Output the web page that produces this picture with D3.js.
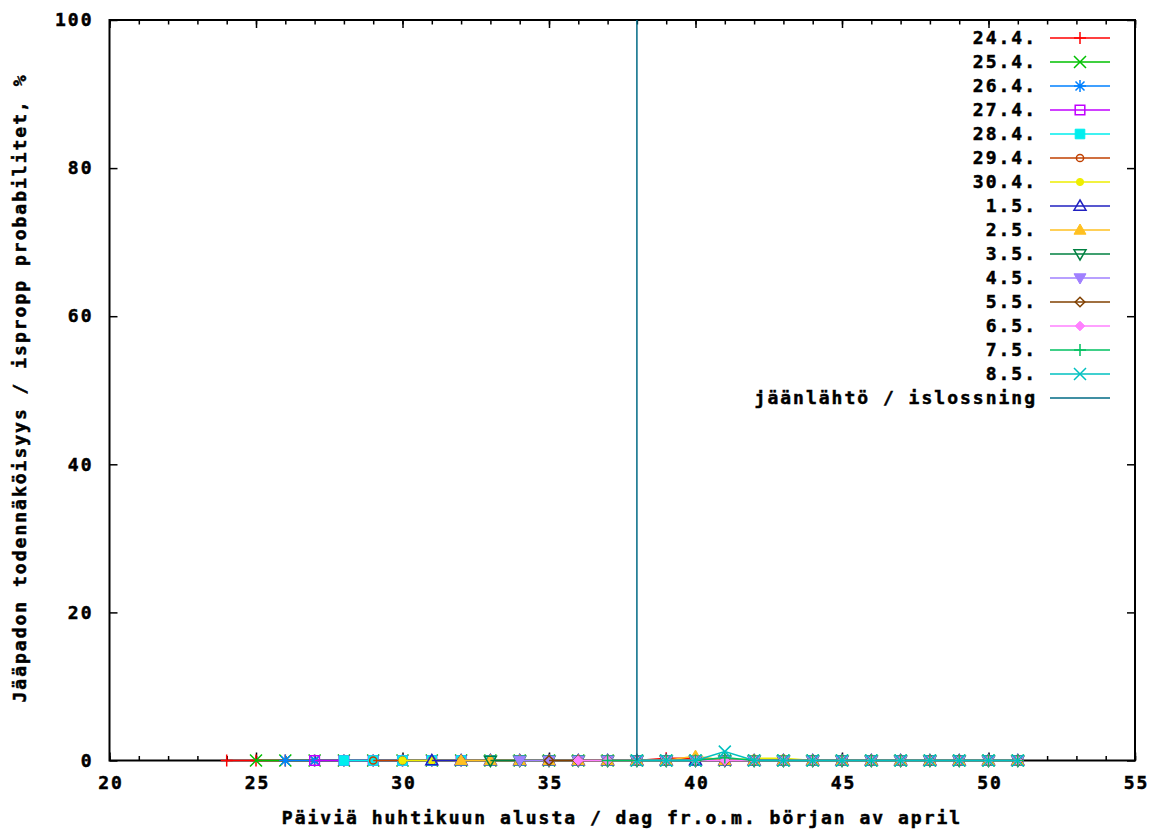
<!DOCTYPE html>
<html>
<head>
<meta charset="utf-8">
<script src="https://cdn.jsdelivr.net/npm/d3@7"></script>
<style>
  body { margin: 0; background: #fff; }
  svg text { font-family: "DejaVu Sans Mono", monospace; font-weight: bold; font-size: 18px; letter-spacing: 2px; fill: #000; stroke: #000; stroke-width: 0.5px; }
</style>
</head>
<body>
<svg id="chart" width="1158" height="832"></svg>
<script>
// forecast dates (legend) and first day of each forecast, counted from start of April
const seriesLabels = ["24.4.", "25.4.", "26.4.", "27.4.", "28.4.", "29.4.", "30.4.", "1.5.", "2.5.", "3.5.", "4.5.", "5.5.", "6.5.", "7.5.", "8.5."];
const startDays = [24, 25, 26, 27, 28, 29, 30, 31, 32, 33, 34, 35, 36, 37, 38];

// probability %, one value per day from start day to day 51
const p24_4 = [0,0,0,0,0,0,0,0,0,0,0,0,0,0,0,0.3,0.3,0,0,0,0,0,0,0,0,0,0,0];
const p25_4 = [0,0,0,0,0,0,0,0,0,0,0,0,0,0,0,0,0,0,0,0,0,0,0,0,0,0,0];
const p26_4 = [0,0,0,0,0,0,0,0,0,0,0,0,0,0,0,0,0,0,0,0,0,0,0,0,0,0];
const p27_4 = [0,0,0,0,0,0,0,0,0,0,0,0,0,0,0,0,0,0,0,0,0,0,0,0,0];
const p28_4 = [0,0,0,0,0,0,0,0,0,0,0,0,0,0,0,0,0,0,0,0,0,0,0,0];
const p29_4 = [0,0,0,0,0,0,0,0,0,0,0,0,0,0,0,0,0,0,0,0,0,0,0];
const p30_4 = [0,0,0,0,0,0,0,0,0,0,0,0,0.3,0.3,0,0,0,0,0,0,0,0];
const p1_5  = [0,0,0,0,0,0,0,0,0,0,0,0,0,0,0,0,0,0,0,0,0];
const p2_5  = [0,0,0,0,0,0,0,0,0.6,0,0,0,0,0,0,0,0,0,0,0];
const p3_5  = [0,0,0,0,0,0,0,0,0,0,0,0,0,0,0,0,0,0,0];
const p4_5  = [0,0,0,0,0,0,0,0,0,0,0,0,0,0,0,0,0,0];
const p5_5  = [0,0,0,0,0,0,0,0,0,0,0,0,0,0,0,0,0];
const p6_5  = [0,0,0,0,0,0,0,0,0,0,0,0,0,0,0,0];
const p7_5  = [0,0,0,0,0.4,0,0,0,0,0,0,0,0,0,0];
const p8_5  = [0,0,0,1.2,0,0,0,0,0,0,0,0,0,0];
const seriesValues = [p24_4, p25_4, p26_4, p27_4, p28_4, p29_4, p30_4, p1_5, p2_5, p3_5, p4_5, p5_5, p6_5, p7_5, p8_5];

// ice break-up day
const iceLabel = "jäänlähtö / islossning";
const iceDay = 38;
const iceRange = [0, 100];

const xTicks = [20, 25, 30, 35, 40, 45, 50, 55];
const yTicks = [0, 20, 40, 60, 80, 100];

const colors = ["#ff0000", "#00c000", "#0080ff", "#c000ff", "#00eeee", "#c04000", "#eeee00", "#2020c0", "#ffc020", "#008040", "#a080ff", "#804000", "#ff80ff", "#00c060", "#00c0c0"];
const iceColor = "#006a85";
const markerTypes = ["plus", "cross", "star", "square", "squareF", "circle", "circleF", "tri", "triF", "triDown", "triDownF", "diamond", "diamondF", "plus", "cross"];

const svg = d3.select("#chart");
const mLeft = 109.5, mRight = 1135, mTop = 20, mBottom = 760.5;

const x = d3.scaleLinear().domain([20, 55]).range([mLeft, mRight]);
const y = d3.scaleLinear().domain([0, 100]).range([mBottom, mTop]);

// axes: major ticks with labels, minor x ticks every day, mirrored on top/right
svg.append("g").attr("transform", `translate(0,${mBottom})`)
  .call(d3.axisBottom(x).tickValues(d3.range(20, 56)).tickSize(-4.5).tickFormat(""));
svg.append("g").attr("transform", `translate(0,${mTop})`)
  .call(d3.axisTop(x).tickValues(d3.range(20, 56)).tickSize(-4.5).tickFormat(""));

svg.append("g").attr("class", "xaxis").attr("transform", `translate(0,${mBottom})`)
  .call(d3.axisBottom(x).tickValues(xTicks).tickSizeInner(-8).tickSizeOuter(0).tickPadding(22).tickFormat(d3.format("d")));
svg.append("g").attr("transform", `translate(0,${mTop})`)
  .call(d3.axisTop(x).tickValues(xTicks).tickSizeInner(-8).tickSizeOuter(0).tickFormat(""));
svg.append("g").attr("class", "yaxis").attr("transform", `translate(${mLeft},0)`)
  .call(d3.axisLeft(y).tickValues(yTicks).tickSizeInner(-8).tickSizeOuter(0).tickPadding(16).tickFormat(d3.format("d")));
svg.append("g").attr("transform", `translate(${mRight},0)`)
  .call(d3.axisRight(y).tickValues(yTicks).tickSizeInner(-8).tickSizeOuter(0).tickFormat(""));

svg.selectAll(".domain").remove();
svg.selectAll(".tick line").attr("stroke", "#000").attr("stroke-width", 1.5);
svg.selectAll(".tick text").attr("font-family", null).attr("font-size", null).attr("fill", "#000");
svg.selectAll(".xaxis .tick text").attr("dy", "0.35em").attr("dx", "1px");

svg.append("rect")
  .attr("x", mLeft).attr("y", mTop).attr("width", mRight - mLeft).attr("height", mBottom - mTop)
  .attr("fill", "none").attr("stroke", "#000").attr("stroke-width", 2);

// axis titles
svg.append("text").attr("x", 622).attr("y", 818).attr("text-anchor", "middle").attr("dy", "0.35em")
  .text("Päiviä huhtikuun alusta / dag fr.o.m. början av april");
svg.append("text").attr("transform", "translate(20,388) rotate(-90)").attr("text-anchor", "middle").attr("dy", "0.35em")
  .text("Jääpadon todennäköisyys / ispropp probabilitet, %");

// marker shapes (gnuplot-like)
function markerPath(type, s) {
  const h = s / 2;
  switch (type) {
    case "plus": return `M${-h},0H${h}M0,${-h}V${h}`;
    case "cross": return `M${-h},${-h}L${h},${h}M${-h},${h}L${h},${-h}`;
    case "star": return `M${-h},0H${h}M0,${-h}V${h}M${-h*0.75},${-h*0.75}L${h*0.75},${h*0.75}M${-h*0.75},${h*0.75}L${h*0.75},${-h*0.75}`;
    case "square": case "squareF": { const a = h * 0.8; return `M${-a},${-a}H${a}V${a}H${-a}Z`; }
    case "circle": case "circleF": { const r = h * 0.6; return d3.arc()({innerRadius: 0, outerRadius: r, startAngle: 0, endAngle: 2 * Math.PI}); }
    case "tri": case "triF": return `M0,${-h}L${h},${h*0.7}L${-h},${h*0.7}Z`;
    case "triDown": case "triDownF": return `M0,${h}L${h},${-h*0.7}L${-h},${-h*0.7}Z`;
    case "diamond": case "diamondF": { const a = h * 0.8; return `M0,${-a}L${a},0L0,${a}L${-a},0Z`; }
  }
}
function addMarker(g, type, color, cx, cy) {
  const filled = type.endsWith("F");
  g.append("path")
    .attr("transform", `translate(${cx},${cy})`)
    .attr("d", markerPath(type, 12))
    .attr("fill", filled ? color : "none")
    .attr("stroke", color)
    .attr("stroke-width", filled ? 1 : 1.5);
}

const line = d3.line().x(d => x(d.day)).y(d => y(d.value));

const plot = svg.append("g");
seriesValues.forEach((vals, i) => {
  const pts = vals.map((v, k) => ({day: startDays[i] + k, value: v}));
  const g = plot.append("g");
  g.append("path").datum(pts).attr("d", line)
    .attr("fill", "none").attr("stroke", colors[i]).attr("stroke-width", 1.5);
  pts.forEach(p => addMarker(g, markerTypes[i], colors[i], x(p.day), y(p.value)));
});

// ice break-up vertical line
svg.append("path")
  .datum(iceRange.map(v => ({day: iceDay, value: v})))
  .attr("d", line).attr("fill", "none").attr("stroke", iceColor).attr("stroke-width", 1.5);

// legend
const legend = svg.append("g");
const legendItems = seriesLabels.map((l, i) => ({label: l, color: colors[i], marker: markerTypes[i]}))
  .concat([{label: iceLabel, color: iceColor, marker: null}]);
legendItems.forEach((d, i) => {
  const ly = 38 + i * 24;
  legend.append("text").attr("x", 1037).attr("y", ly).attr("dy", "0.35em").attr("text-anchor", "end").text(d.label);
  legend.append("line").attr("x1", 1050).attr("x2", 1110).attr("y1", ly).attr("y2", ly)
    .attr("stroke", d.color).attr("stroke-width", 1.5);
  if (d.marker) addMarker(legend, d.marker, d.color, 1080, ly);
});
</script>
</body>
</html>
